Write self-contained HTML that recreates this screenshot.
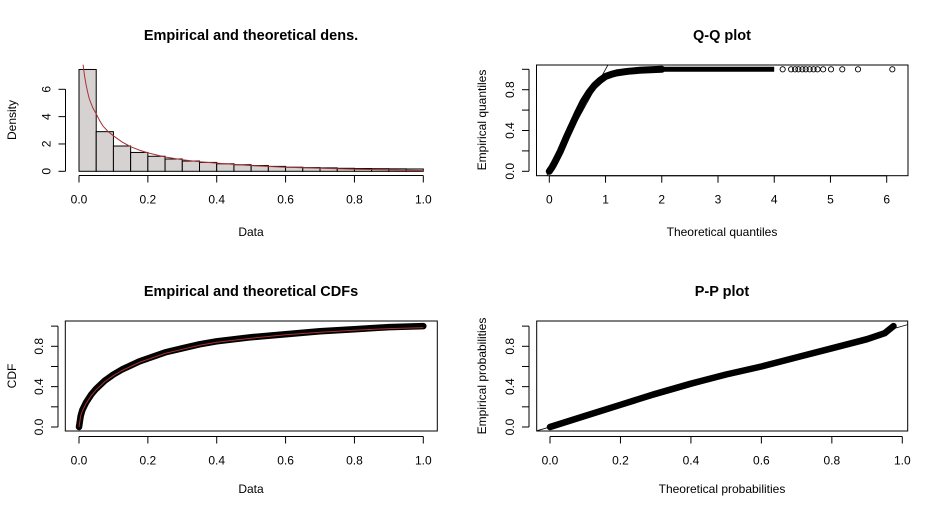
<!DOCTYPE html>
<html><head><meta charset="utf-8"><style>
body{margin:0;background:#fff}
svg{display:block;font-family:"Liberation Sans",Arial,sans-serif}
.t{font-size:12px;fill:#000}
.ti{font-size:14.5px;font-weight:bold;fill:#000}
</style></head><body>
<svg id="s" width="942" height="513" viewBox="0 0 942 513"></svg>
<script>
// Histogram data
const histBreaks=[0,0.05,0.1,0.15,0.2,0.25,0.3,0.35,0.4,0.45,0.5,0.55,0.6,0.65,0.7,0.75,0.8,0.85,0.9,0.95,1.0];
const histDensity=[7.45,2.9,1.85,1.38,1.1,0.9,0.75,0.65,0.55,0.48,0.42,0.36,0.3,0.27,0.25,0.22,0.2,0.19,0.18,0.17];
const densX=[0.012,0.016,0.02,0.025,0.03,0.04,0.05,0.06,0.07,0.085,0.1,0.125,0.15,0.175,0.2,0.25,0.3,0.35,0.4,0.5,0.6,0.7,0.8,0.9,1.0];
const densY=[7.8,7.0,6.4,5.8,5.3,4.65,4.2,3.7,3.3,2.9,2.6,2.15,1.8,1.55,1.35,1.05,0.85,0.7,0.6,0.42,0.3,0.22,0.15,0.1,0.05];
const histXTicks=[0,0.2,0.4,0.6,0.8,1.0];
const histYTicks=[0,2,4,6];
// QQ data
const qqX=[0,0.05,0.1,0.2,0.3,0.4,0.5,0.6,0.7,0.8,0.9,1.0,1.1,1.2,1.4,1.6,1.8,2.0];
const qqY=[0,0.04,0.09,0.2,0.33,0.45,0.57,0.68,0.77,0.84,0.89,0.93,0.95,0.965,0.98,0.99,0.995,1.0];
const qqTailX=[2.0,2.5,3.0,3.5,4.0];
const qqTailY=[1,1,1,1,1];
const qqSparseX=[4.15,4.3,4.37,4.43,4.5,4.56,4.63,4.7,4.77,4.87,5.01,5.21,5.49,6.1];
const qqSparseY=[1,1,1,1,1,1,1,1,1,1,1,1,1,1];
const qqXTicks=[0,1,2,3,4,5,6];
const probTicks=[0,0.2,0.4,0.6,0.8,1.0];
const probLabels=["0.0","0.2","0.4","0.6","0.8","1.0"];
// CDF data
const cdfX=[0,0.005,0.01,0.02,0.035,0.05,0.075,0.1,0.125,0.15,0.175,0.2,0.25,0.3,0.35,0.4,0.5,0.6,0.7,0.8,0.9,1.0];
const cdfEmp=[0,0.11,0.17,0.24,0.32,0.38,0.46,0.52,0.57,0.61,0.65,0.68,0.74,0.78,0.82,0.85,0.89,0.92,0.95,0.97,0.99,1.0];
const cdfTheo=[0,0.11,0.16,0.23,0.31,0.37,0.45,0.51,0.56,0.6,0.64,0.67,0.73,0.77,0.81,0.84,0.88,0.915,0.94,0.96,0.975,0.985];
// PP data
const ppX=[0,0.1,0.2,0.3,0.4,0.5,0.6,0.7,0.8,0.9,0.95,0.975];
const ppY=[0,0.11,0.22,0.33,0.43,0.52,0.6,0.69,0.78,0.87,0.93,1.0];

const S=document.getElementById('s');const NS='http://www.w3.org/2000/svg';
const RED='#a83232';
function el(tag,a,p){const e=document.createElementNS(NS,tag);for(const k in a)e.setAttribute(k,a[k]);(p||S).appendChild(e);return e;}
function txt(x,y,s,cls,rot,anchor){const e=el('text',{x:x,y:y,class:cls,'text-anchor':anchor||'middle'});if(rot)e.setAttribute('transform','rotate(-90 '+x+' '+y+')');e.textContent=s;return e;}
function lin(d0,d1,r0,r1){return v=>r0+(v-d0)/(d1-d0)*(r1-r0);}
function pathD(xs,ys,sx,sy){return xs.map((v,i)=>(i?'L':'M')+sx(v).toFixed(1)+' '+sy(ys[i]).toFixed(1)).join(' ');}
function xAxis(ticks,labels,sx,y,g){el('line',{x1:sx(ticks[0]),x2:sx(ticks[ticks.length-1]),y1:y,y2:y,stroke:'#000'},g);
 ticks.forEach((v,i)=>{el('line',{x1:sx(v),x2:sx(v),y1:y,y2:y+7,stroke:'#000'},g);const t=txt(sx(v),y+28,labels[i],'t');});}
function yAxis(ticks,labels,sy,x,g){el('line',{x1:x,x2:x,y1:sy(ticks[0]),y2:sy(ticks[ticks.length-1]),stroke:'#000'},g);
 ticks.forEach((v,i)=>{el('line',{x1:x,x2:x-7,y1:sy(v),y2:sy(v),stroke:'#000'},g);if(labels[i]){const t=txt(x-15,sy(v),labels[i],'t',true);}});}
function grp(name){const g=el('g',{});return g;}

// Panel 1 histogram
{const g=grp('density-panel');const sx=lin(0,1,79,423.3),sy=lin(0,6,171.3,89.3);
 for(let i=0;i<histDensity.length;i++){const r=el('rect',{x:sx(histBreaks[i]),y:sy(histDensity[i]),width:sx(histBreaks[i+1])-sx(histBreaks[i]),height:sy(0)-sy(histDensity[i]),fill:'#d6d2d2',stroke:'#000','stroke-width':1},g);
 }
 const c=el('path',{d:pathD(densX,densY,sx,sy),fill:'none',stroke:RED,'stroke-width':1},g);
 xAxis(histXTicks,["0.0","0.2","0.4","0.6","0.8","1.0"],sx,175.5,g);yAxis(histYTicks,["0","2","4","6"],sy,65.5,g);
 const t=txt(251,40,'Empirical and theoretical dens.','ti');
 const a=txt(251,236,'Data','t');
 const b=txt(16,120,'Density','t',true);}

// Panel 2 QQ
{const g=grp('qq-panel');const sx=lin(0,6,549.3,886.7),sy=lin(0,0.8,171.3,89.7);
 const cp=el('clipPath',{id:'c2'},g);el('rect',{x:537,y:65,width:371,height:111},cp);
 el('line',{x1:sx(-0.1),y1:sy(-0.1),x2:sx(1.3),y2:sy(1.3),stroke:'#000','stroke-width':0.8,'clip-path':'url(#c2)'},g);
 const p=el('path',{d:pathD(qqX,qqY,sx,sy),fill:'none',stroke:'#000','stroke-width':7,'stroke-linecap':'round','stroke-linejoin':'round'},g);
 const p2=el('path',{d:pathD(qqTailX,qqTailY,sx,sy),fill:'none',stroke:'#000','stroke-width':5},g);
 qqSparseX.forEach((v,i)=>{const c=el('circle',{cx:sx(v),cy:sy(qqSparseY[i]),r:2.6,fill:'none',stroke:'#000','stroke-width':0.9},g);});
 el('rect',{x:536.5,y:65,width:371.5,height:110.7,fill:'none',stroke:'#000'},g);
 xAxis(qqXTicks,qqXTicks.map(String),sx,175.7,g);yAxis(probTicks,["0.0","","0.4","","0.8",""],sy,529,g);
 const t=txt(722,40,'Q-Q plot','ti');
 const a=txt(722,236,'Theoretical quantiles','t');
 const b=txt(486,120,'Empirical quantiles','t',true);}

// Panel 3 CDF
{const g=grp('cdf-panel');const sx=lin(0,1,79,423.3),sy=lin(0,0.8,427,346.3);
 const p=el('path',{d:pathD(cdfX,cdfEmp,sx,sy),fill:'none',stroke:'#000','stroke-width':6.5,'stroke-linecap':'round','stroke-linejoin':'round'},g);
 const r=el('path',{d:pathD(cdfX,cdfTheo,sx,sy),fill:'none',stroke:RED,'stroke-width':1},g);
 el('rect',{x:65.3,y:321,width:372,height:110,fill:'none',stroke:'#000'},g);
 xAxis(histXTicks,["0.0","0.2","0.4","0.6","0.8","1.0"],sx,436.5,g);yAxis(probTicks,["0.0","","0.4","","0.8",""],sy,58,g);
 const t=txt(251,296,'Empirical and theoretical CDFs','ti');
 const a=txt(251,493,'Data','t');
 const b=txt(16,376,'CDF','t',true);}

// Panel 4 PP
{const g=grp('pp-panel');const sx=lin(0,1,550,902.3),sy=lin(0,0.8,427,346.3);
 const cp=el('clipPath',{id:'c4'},g);el('rect',{x:537,y:321,width:371,height:110},cp);
 el('line',{x1:sx(-0.1),y1:sy(-0.1),x2:sx(1.1),y2:sy(1.1),stroke:'#000','stroke-width':0.8,'clip-path':'url(#c4)'},g);
 const p=el('path',{d:pathD(ppX,ppY,sx,sy),fill:'none',stroke:'#000','stroke-width':6.5,'stroke-linecap':'round','stroke-linejoin':'round'},g);
 el('rect',{x:536.7,y:321,width:371,height:110,fill:'none',stroke:'#000'},g);
 xAxis(probTicks,probLabels,sx,436.5,g);yAxis(probTicks,["0.0","","0.4","","0.8",""],sy,529,g);
 const t=txt(722,296,'P-P plot','ti');
 const a=txt(722,493,'Theoretical probabilities','t');
 const b=txt(486,376,'Empirical probabilities','t',true);}
</script>
</body></html>
